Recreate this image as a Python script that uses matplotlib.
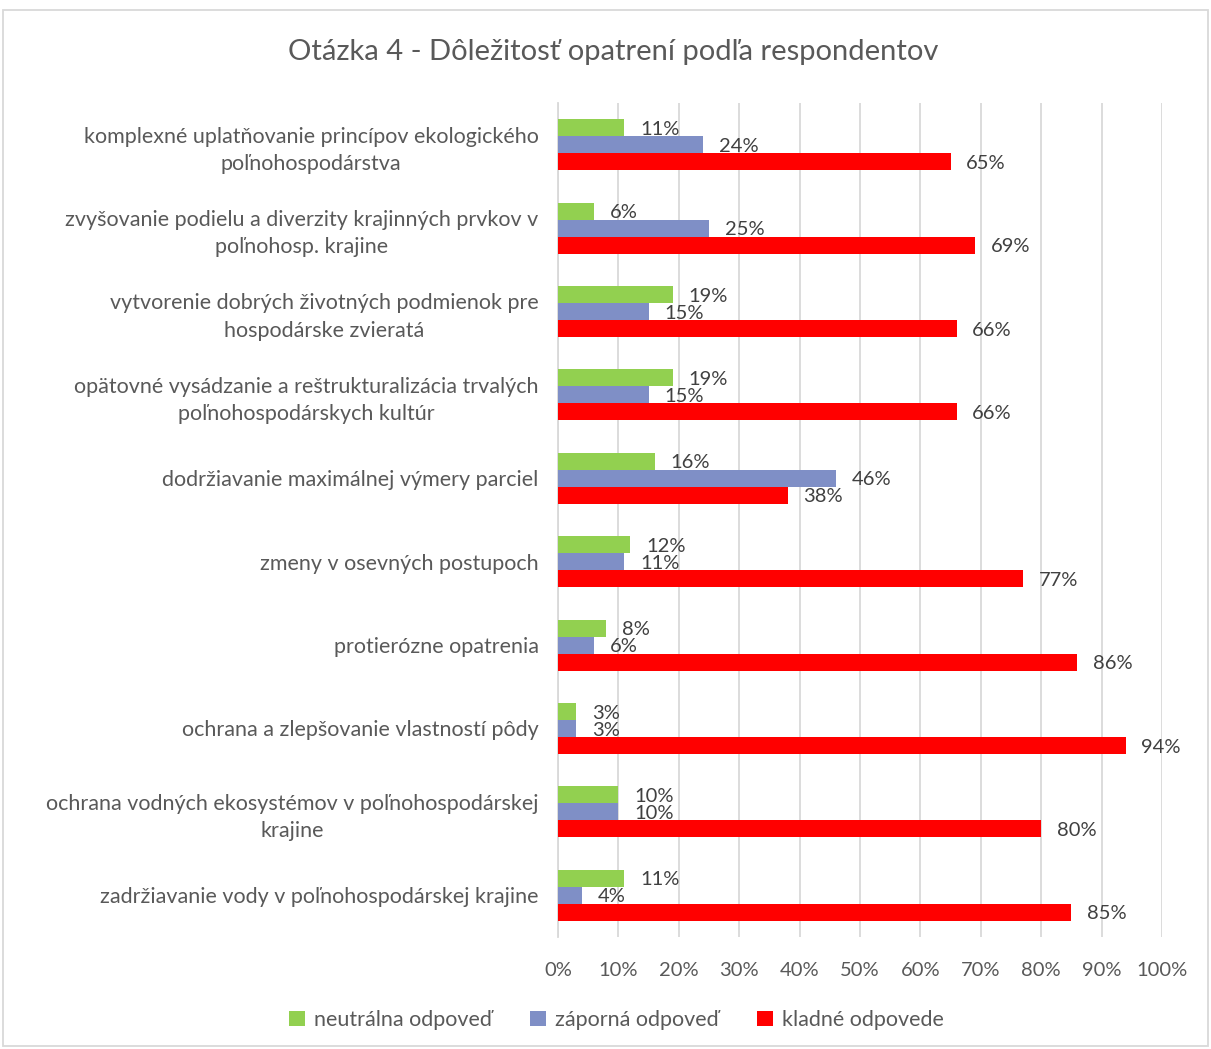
import matplotlib.pyplot as plt
import numpy as np
from matplotlib.patches import Rectangle

plt.rcParams['font.family'] = ['Lato', 'DejaVu Sans']

categories = [
    'komplexné uplatňovanie princípov ekologického\npoľnohospodárstva',
    'zvyšovanie podielu a diverzity krajinných prvkov v\npoľnohosp. krajine',
    'vytvorenie dobrých životných podmienok pre\nhospodárske zvieratá',
    'opätovné vysádzanie a reštrukturalizácia trvalých\npoľnohospodárskych kultúr',
    'dodržiavanie maximálnej výmery parciel',
    'zmeny v osevných postupoch',
    'protierózne opatrenia',
    'ochrana a zlepšovanie vlastností pôdy',
    'ochrana vodných ekosystémov v poľnohospodárskej\nkrajine',
    'zadržiavanie vody v poľnohospodárskej krajine',
]
neutralna = [11, 6, 19, 19, 16, 12, 8, 3, 10, 11]
zaporna = [24, 25, 15, 15, 46, 11, 6, 3, 10, 4]
kladne = [65, 69, 66, 66, 38, 77, 86, 94, 80, 85]
series_names = ['neutrálna odpoveď', 'záporná odpoveď', 'kladné odpovede']
colors = ['#92D050', '#7F8FC6', '#FF0000']
text_col = '#595959'

fig = plt.figure(figsize=(12.11, 10.49), dpi=100)
ax = fig.add_axes([558/1211, 1-937/1049, (1162-558)/1211, (937-103)/1049])

y = np.arange(len(categories))
h = 0.204
offsets = [-h, 0, h]
for vals, off, col, name in zip([neutralna, zaporna, kladne], offsets, colors, series_names):
    ax.barh(y + off, vals, height=h, color=col, label=name, zorder=3)
    for yy, v in zip(y + off, vals):
        ax.text(v + 2.6, yy + 0.02, f'{v}%', va='center', ha='left', fontsize=14.5,
                color='#404040', zorder=4)

ax.set_ylim(len(categories) - 0.5, -0.5)
ax.set_xlim(0, 100)
ax.set_xticks(np.arange(0, 101, 10))
ax.set_xticklabels([f'{t}%' for t in range(0, 101, 10)], fontsize=14.5, color=text_col)
ax.set_yticks(y)
ax.set_yticklabels(categories, fontsize=15.5, color=text_col, multialignment='center',
                   linespacing=1.45)
ax.tick_params(axis='both', length=0)
ax.tick_params(axis='x', pad=18)
ax.tick_params(axis='y', pad=14)
ax.grid(axis='x', color='#D9D9D9', linewidth=1.3, zorder=0)
for s in ['top', 'right', 'bottom']:
    ax.spines[s].set_visible(False)
ax.spines['left'].set_color('#D9D9D9')
ax.spines['left'].set_linewidth(1.3)

fig.text(0.506, 1-52/1049, 'Otázka 4 - Dôležitosť opatrení podľa respondentov',
         ha='center', va='center', fontsize=21, color=text_col)

fig.legend(loc='center', bbox_to_anchor=(0.509, 1-1020/1049), ncol=3, frameon=False,
           fontsize=15.5, handlelength=0.75, handleheight=0.75, columnspacing=1.8,
           handletextpad=0.4, labelcolor=text_col)

fig.patches.append(Rectangle((3/1211, 1-1046/1049), 1205/1211, 1036/1049,
                             transform=fig.transFigure, fill=False,
                             edgecolor='#D9D9D9', linewidth=1.3))

fig.savefig('out.png', dpi=100)
